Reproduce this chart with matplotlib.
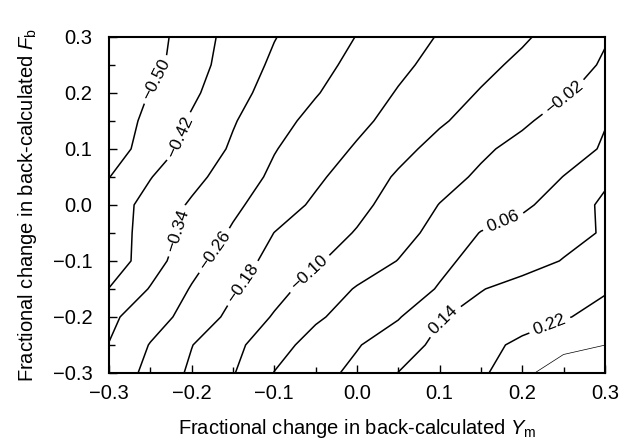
import numpy as np
import matplotlib
matplotlib.use('Agg')
import matplotlib.pyplot as plt
from matplotlib.ticker import MultipleLocator

plt.rcParams['font.family'] = ['Liberation Sans', 'DejaVu Sans']
plt.rcParams['mathtext.fontset'] = 'custom'
plt.rcParams['mathtext.rm'] = 'Liberation Sans'
plt.rcParams['mathtext.it'] = 'Liberation Sans:italic'

# fractional change in Ym (columns) and Fb (rows, top to bottom)
ym = [-0.30, -0.25, -0.20, -0.15, -0.10, -0.05, 0.00, 0.05, 0.10, 0.15, 0.20, 0.25, 0.30]
fb = [0.30, 0.25, 0.20, 0.15, 0.10, 0.05, 0.00, -0.05, -0.10, -0.15, -0.20, -0.25, -0.30]

# values
z = [
    [-0.612, -0.535, -0.458, -0.394, -0.343, -0.300, -0.258, -0.216, -0.175, -0.142, -0.110, -0.069, -0.025],
    [-0.602, -0.527, -0.452, -0.384, -0.327, -0.284, -0.240, -0.196, -0.157, -0.120, -0.084, -0.048, -0.013],
    [-0.558, -0.497, -0.435, -0.366, -0.311, -0.265, -0.219, -0.175, -0.134, -0.095, -0.061, -0.027, 0.007],
    [-0.549, -0.479, -0.410, -0.346, -0.287, -0.238, -0.198, -0.154, -0.109, -0.070, -0.032, 0.011, 0.057],
    [-0.540, -0.465, -0.394, -0.329, -0.264, -0.218, -0.172, -0.122, -0.076, -0.033, 0.003, 0.034, 0.066],
    [-0.502, -0.423, -0.363, -0.303, -0.245, -0.194, -0.142, -0.091, -0.048, -0.008, 0.026, 0.061, 0.125],
    [-0.460, -0.394, -0.330, -0.276, -0.220, -0.167, -0.120, -0.070, -0.018, 0.014, 0.046, 0.094, 0.155],
    [-0.463, -0.386, -0.314, -0.250, -0.179, -0.137, -0.095, -0.048, 0.005, 0.063, 0.090, 0.118, 0.146],
    [-0.470, -0.376, -0.287, -0.215, -0.157, -0.109, -0.063, -0.018, 0.044, 0.083, 0.113, 0.143, 0.173],
    [-0.418, -0.335, -0.254, -0.188, -0.127, -0.068, -0.014, 0.024, 0.065, 0.137, 0.164, 0.189, 0.214],
    [-0.356, -0.296, -0.230, -0.159, -0.093, -0.031, 0.013, 0.054, 0.135, 0.164, 0.189, 0.215, 0.240],
    [-0.338, -0.256, -0.182, -0.122, -0.050, 0.009, 0.054, 0.108, 0.157, 0.198, 0.235, 0.268, 0.299],
    [-0.312, -0.238, -0.167, -0.105, -0.018, 0.029, 0.081, 0.141, 0.174, 0.207, 0.273, 0.362, 0.451],
]

levels = [-0.50, -0.42, -0.34, -0.26, -0.18, -0.10, -0.02, 0.06, 0.14, 0.22]
top_level = [0.30]

# where each label sits
label_pos = [(-0.242, 0.223), (-0.218, 0.123), (-0.214, -0.048), (-0.174, -0.080),
             (-0.139, -0.139), (-0.059, -0.120), (0.249, 0.195), (0.177, -0.030),
             (0.110, -0.214), (0.230, -0.202)]

fig = plt.figure(figsize=(6.34, 4.44), dpi=100)
ax = fig.add_axes([0.172, 0.160, 0.782, 0.757])

X, Y = np.meshgrid(ym, fb)
Z = np.array(z)
cs = ax.contour(X, Y, Z, levels=levels, colors='black', linewidths=1.1,
                negative_linestyles='solid')
ax.contour(X, Y, Z, levels=top_level, colors='black', linewidths=0.5)
ax.clabel(cs, fontsize=12.5, manual=label_pos, inline=True, inline_spacing=5,
          fmt=lambda v: f"{v:.2f}".replace('-', '\u2212'))

ax.set_xlim(-0.3, 0.3)
ax.set_ylim(-0.3, 0.3)
ax.xaxis.set_major_locator(MultipleLocator(0.1))
ax.yaxis.set_major_locator(MultipleLocator(0.1))
ax.xaxis.set_minor_locator(MultipleLocator(0.05))
ax.yaxis.set_minor_locator(MultipleLocator(0.05))
ax.xaxis.set_major_formatter(lambda v, p: f"{v:.1f}".replace('-', '\u2212'))
ax.yaxis.set_major_formatter(lambda v, p: f"{v:.1f}".replace('-', '\u2212'))
ax.tick_params(which='both', direction='in', top=False, right=False, labelsize=14.5, width=1.0)
ax.tick_params(which='major', length=6)
ax.tick_params(which='minor', length=4)
ax.tick_params(axis='x', which='major', pad=8)
ax.tick_params(axis='y', which='major', pad=12)
for s in ax.spines.values():
    s.set_linewidth(1.5)

ax.set_xlabel(r"Fractional change in back-calculated $Y_\mathrm{m}$", fontsize=14.5, labelpad=10)
ax.set_ylabel(r"Fractional change in back-calculated $F_\mathrm{b}$", fontsize=14.5, labelpad=10)

fig.savefig('out.png', dpi=100)
